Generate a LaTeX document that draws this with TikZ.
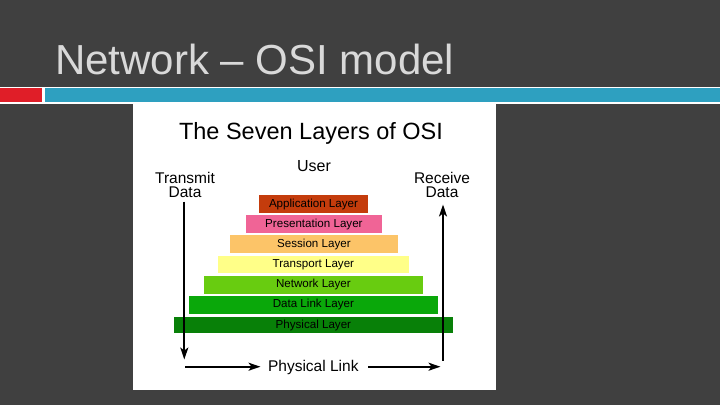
\documentclass[tikz,border=0pt]{standalone}
\usepackage{fontspec}
\setmainfont{Liberation Sans}
\usetikzlibrary{arrows.meta}
\newcommand\myfs[2]{\fontsize{#1}{#2}\selectfont}
\definecolor{bgdark}{RGB}{64,64,64}
\definecolor{barred}{RGB}{224,30,40}
\definecolor{barcyan}{RGB}{46,160,192}
\definecolor{titlegray}{RGB}{217,217,217}
\definecolor{appc}{RGB}{196,60,12}
\definecolor{presc}{RGB}{240,100,150}
\definecolor{sessc}{RGB}{252,196,104}
\definecolor{transc}{RGB}{255,255,136}
\definecolor{netc}{RGB}{104,204,16}
\definecolor{dlc}{RGB}{10,168,10}
\definecolor{physc}{RGB}{8,128,8}
\tikzset{
  layerbox/.style={draw=none, inner sep=0pt, minimum height=17.7pt, font=\myfs{11.6}{13}, text=black},
  flowline/.style={line width=1.8pt, -{Stealth[length=12pt,width=8pt,inset=3pt]}},
  sidelabel/.style={inner sep=0pt, align=center, font=\myfs{15.5}{14.3}},
}
\begin{document}
\begin{tikzpicture}[x=1pt,y=-1pt]
\useasboundingbox (0,0) rectangle (720,405);
\fill[bgdark] (0,0) rectangle (720,405);
% header band
\fill[white] (0,86.7) rectangle (720,104);
\fill[barred] (0,88) rectangle (42,102);
\fill[barcyan] (45.3,88) rectangle (720,102);
% slide title
\node[anchor=base west, inner sep=0pt, text=titlegray, font=\myfs{42}{46}] (slidetitle) at (55,74.5) {Network – OSI model};
% picture area
\fill[white] (133,104) rectangle (496,390);
\node[anchor=base, inner sep=0pt, font=\myfs{23.5}{26}] (pictitle) at (311,139.3) {The Seven Layers of OSI};
\node[anchor=base, inner sep=0pt, font=\myfs{16}{18}] (user) at (314,171.7) {User};
\node[sidelabel] (transmit) at (185,185.2) {Transmit\\Data};
\node[sidelabel] (receive) at (442,185.3) {Receive\\Data};
% layers
\node[layerbox, fill=appc, minimum width=108.7pt] (app) at (313.5,204) {Application Layer};
\node[layerbox, fill=presc, minimum width=135.7pt] (pres) at (313.9,224) {Presentation Layer};
\node[layerbox, fill=sessc, minimum width=167.7pt] (sess) at (313.9,244) {Session Layer};
\node[layerbox, fill=transc, minimum width=191.3pt] (trans) at (313.4,264.5) {Transport Layer};
\node[layerbox, fill=netc, minimum width=218.7pt] (net) at (313.4,284.7) {Network Layer};
\node[layerbox, fill=dlc, minimum width=248.7pt] (dl) at (313.4,304.7) {Data Link Layer};
\node[layerbox, fill=physc, minimum width=278.7pt, minimum height=16pt] (phys) at (313.4,325.3) {Physical Layer};
% physical link
\node[anchor=base, inner sep=0pt, font=\myfs{15.5}{18}] (plink) at (313.3,371.7) {Physical Link};
% connectors
\coordinate (ltop) at (184.3,201.7);
\coordinate (lbot) at (184.3,359.5);
\coordinate (rbot) at (443,360.5);
\coordinate (rtop) at (443,204.5);
\coordinate (blstart) at (185,366.7);
\coordinate (blend) at (260.5,366.7);
\coordinate (brstart) at (368,366.7);
\coordinate (brend) at (440.5,366.7);
\draw[flowline] (ltop) -- (lbot);
\draw[flowline] (rbot) -- (rtop);
\draw[flowline] (blstart) -- (blend);
\draw[flowline] (brstart) -- (brend);
\end{tikzpicture}
\end{document}
